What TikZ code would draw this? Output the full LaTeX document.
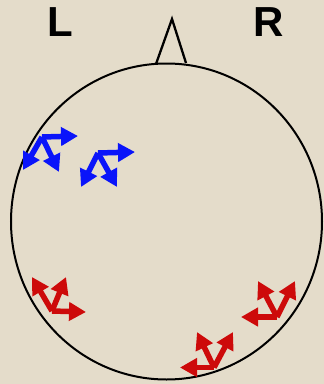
\documentclass[tikz,border=0pt]{standalone}
\usepackage{fontspec}
\setmainfont{Liberation Sans}
\usetikzlibrary{arrows.meta}
\definecolor{bg}{RGB}{228,220,202}
\definecolor{arblue}{RGB}{10,20,250}
\definecolor{arred}{RGB}{205,10,10}
\tikzset{
  vec/.style={line width=5.5pt,-{Triangle[width=18pt,length=17pt]}},
  outline/.style={line width=2pt,black},
  lbl/.style={font=\bfseries\fontsize{42}{42}\selectfont,inner sep=0pt}
}
\begin{document}
\begin{tikzpicture}[x=1pt,y=-1pt]
\fill[bg] (0,0) rectangle (324,384);
\useasboundingbox (0,0) rectangle (324,384);
% head
\draw[outline] (166.5,221.5) ellipse [x radius=155.5, y radius=158];
\draw[outline,line width=2.3pt,line join=miter] (156,64) -- (172,19) -- (186,63);
% labels
\node[lbl] (L) at (60,22) {L};
\node[lbl] (R) at (269,22) {R};
% blue glyph 1
\coordinate (b1) at (42,137);
\draw[vec,arblue] (b1) -- (78,136);
\draw[vec,arblue] (b1) -- (23,170);
\draw[vec,arblue] (b1) -- (59,172);
% blue glyph 2
\coordinate (b2) at (98,153);
\draw[vec,arblue] (b2) -- (135,152);
\draw[vec,arblue] (b2) -- (81,187);
\draw[vec,arblue] (b2) -- (117,187);
% red glyph 1
\coordinate (r1) at (52,311);
\draw[vec,arred] (r1) -- (86,312);
\draw[vec,arred] (r1) -- (32,277);
\draw[vec,arred] (r1) -- (66,277);
% red glyph 2
\coordinate (r2) at (277,317);
\draw[vec,arred] (r2) -- (241,317);
\draw[vec,arred] (r2) -- (258,281);
\draw[vec,arred] (r2) -- (295,281);
% red glyph 3
\coordinate (r3) at (214,367.5);
\draw[vec,arred] (r3) -- (180,367.5);
\draw[vec,arred] (r3) -- (197,332);
\draw[vec,arred] (r3) -- (233,332);
\end{tikzpicture}
\end{document}
